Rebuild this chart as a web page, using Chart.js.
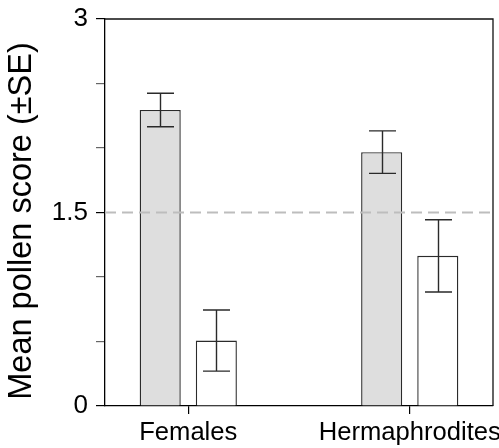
<!DOCTYPE html>
<html>
<head>
<meta charset="utf-8">
<script src="https://cdn.jsdelivr.net/npm/chart.js@4/dist/chart.umd.min.js"></script>
<style>
  html, body { margin: 0; padding: 0; background: #fff; }
  #wrap { width: 499px; height: 448px; position: relative; }
</style>
</head>
<body>
<div id="wrap"><canvas id="c"></canvas></div>
<script>
// ---- data ----
const categories = ['Females', 'Hermaphrodites'];
const seriesNames = ['Series 1', 'Series 2'];
const meansGray = [2.295, 1.968];
const seGray = [0.13, 0.165];
const meansWhite = [0.507, 1.164];
const seWhite = [0.237, 0.28];
const yTickLabels = [0, 1.5, 3];
const refLineValue = 1.5;
const yTitle = 'Mean pollen score (±SE)';

const FONT = "'Liberation Sans', Arial, sans-serif";

function pts(arr) { return arr.map((v, i) => ({ x: i, y: v })); }

const extras = {
  id: 'extras',
  afterDatasetsDraw(chart) {
    const { ctx, scales } = chart;
    const y = scales.y;
    // reference dashed line
    ctx.save();
    ctx.strokeStyle = '#bdbdbd';
    ctx.lineWidth = 2;
    ctx.setLineDash([11, 6]);
    const yr = y.getPixelForValue(refLineValue);
    ctx.beginPath();
    ctx.moveTo(chart.chartArea.left, yr);
    ctx.lineTo(chart.chartArea.right, yr);
    ctx.stroke();
    ctx.restore();

    const ses = [seGray, seWhite];
    const means = [meansGray, meansWhite];
    ctx.save();
    ctx.strokeStyle = '#2a2a2a';
    ctx.lineWidth = 1.4;
    chart.data.datasets.forEach((ds, di) => {
      const meta = chart.getDatasetMeta(di);
      meta.data.forEach((bar, i) => {
        const cx = Math.round(bar.x) + 0.5;
        const top = y.getPixelForValue(means[di][i] + ses[di][i]);
        const bot = y.getPixelForValue(means[di][i] - ses[di][i]);
        const hw = 13.5;
        ctx.beginPath();
        ctx.moveTo(cx, top); ctx.lineTo(cx, bot);
        ctx.moveTo(cx - hw, top); ctx.lineTo(cx + hw, top);
        ctx.moveTo(cx - hw, bot); ctx.lineTo(cx + hw, bot);
        ctx.stroke();
      });
    });
    ctx.restore();
  },
  afterDraw(chart) {
    const { ctx, chartArea: a } = chart;
    ctx.save();
    ctx.strokeStyle = '#111';
    ctx.lineWidth = 1.3;
    ctx.beginPath();
    ctx.moveTo(a.left, a.top);
    ctx.lineTo(a.right, a.top);
    ctx.lineTo(a.right, a.bottom);
    ctx.stroke();
    ctx.restore();

    // y-axis title
    ctx.save();
    ctx.translate(22.5, (a.top + a.bottom) / 2 + 8.5);
    ctx.rotate(-Math.PI / 2);
    ctx.font = "32.5px " + FONT;
    ctx.fillStyle = '#000';
    ctx.textAlign = 'center';
    ctx.textBaseline = 'middle';
    ctx.fillText(yTitle, 0, 0);
    ctx.restore();
  }
};

new Chart(document.getElementById('c'), {
  type: 'bar',
  data: {
    datasets: [
      {
        label: seriesNames[0],
        data: pts(meansGray),
        backgroundColor: '#dedede',
        borderColor: '#2b2b2b',
        borderWidth: 1.4,
        borderSkipped: 'start'
      },
      {
        label: seriesNames[1],
        data: pts(meansWhite),
        backgroundColor: '#ffffff',
        borderColor: '#2b2b2b',
        borderWidth: 1.4,
        borderSkipped: 'start'
      }
    ]
  },
  options: {
    responsive: true,
    maintainAspectRatio: false,
    animation: false,
    categoryPercentage: 0.5068,
    barPercentage: 0.732,
    layout: { padding: { top: 19, right: 6, bottom: 0, left: 0 } },
    plugins: { legend: { display: false }, tooltip: { enabled: false } },
    scales: {
      x: {
        type: 'linear',
        offset: false,
        min: -0.376,
        max: 1.376,
        afterBuildTicks: s => { s.ticks = categories.map((c, i) => ({ value: i })); },
        afterFit: s => { s.height = 42; s.paddingLeft = 0; s.paddingRight = 0; s.paddingTop = 0; s.paddingBottom = 0; },
        ticks: {
          callback: v => categories[v] ?? '',
          font: { family: FONT, size: 25.6 },
          color: '#000',
          padding: 4,
          maxRotation: 0,
          autoSkip: false
        },
        grid: { display: true, offset: false, drawOnChartArea: false, drawTicks: true, tickLength: 8, color: '#000', lineWidth: 1.2 },
        border: { display: true, color: '#000', width: 1.3 }
      },
      y: {
        min: 0,
        max: 3,
        afterFit: s => { s.width = 105; s.paddingTop = 0; s.paddingBottom = 0; s.paddingLeft = 0; s.paddingRight = 0; },
        ticks: {
          stepSize: 0.5,
          callback: v => yTickLabels.includes(v) ? String(v) : '',
          font: { family: FONT, size: 26 },
          color: '#000',
          padding: 8
        },
        grid: {
          display: true, drawOnChartArea: false, drawTicks: true, tickLength: 9,
          color: ctx => (ctx.tick && yTickLabels.includes(ctx.tick.value)) ? '#000' : '#666',
          lineWidth: 1.2
        },
        border: { display: true, color: '#000', width: 1.3 },
        title: { display: false }
      }
    }
  },
  plugins: [extras]
});
</script>
</body>
</html>
